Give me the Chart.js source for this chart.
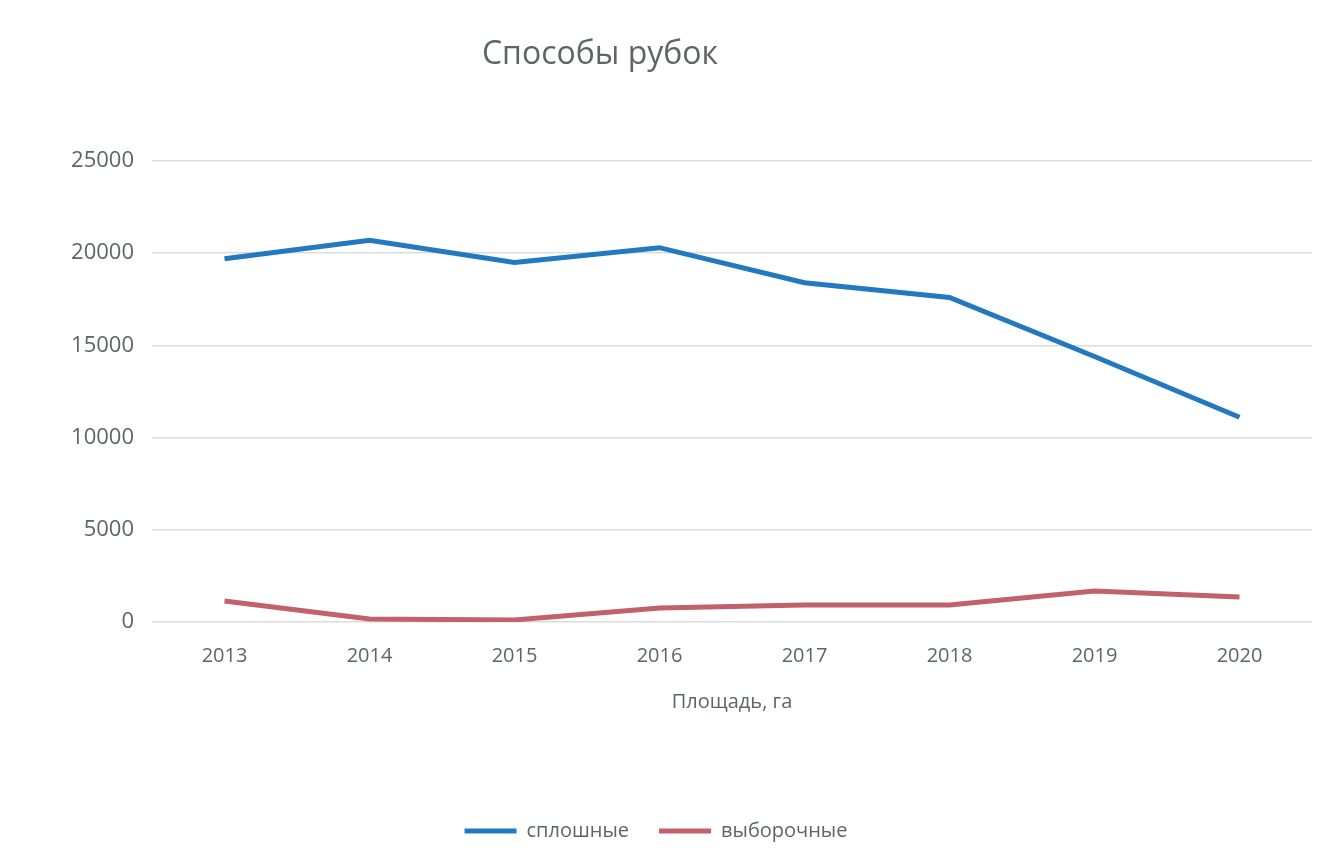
<!DOCTYPE html>
<html>
<head>
<meta charset="utf-8">
<script src="https://cdn.jsdelivr.net/npm/chart.js@4/dist/chart.umd.min.js"></script>
<style>
    html, body { margin: 0; padding: 0; background: #ffffff; }
    #wrap { width: 1339px; height: 864px; position: relative; }
</style>
</head>
<body>
<div id="wrap"><canvas id="chart_rubki"></canvas></div>
<script>
const anos = ['2013', '2014', '2015', '2016', '2017', '2018', '2019', '2020'];
const sploshnye = [19700, 20700, 19500, 20300, 18400, 17600, 14400, 11100];
const vyborochnye = [1140, 160, 110, 760, 920, 920, 1680, 1350];
const tickValues = [0, 5000, 10000, 15000, 20000, 25000];

const corTexto = '#5f6466';

// título desenhado à mão, fora do centro como no original
const tituloPlugin = {
    id: 'tituloPlugin',
    afterDraw(chart) {
        const c = chart.ctx;
        c.save();
        c.font = '32px "Open Sans", sans-serif';
        c.fillStyle = corTexto;
        c.textAlign = 'center';
        c.textBaseline = 'middle';
        c.fillText('Способы рубок', 600, 55);
        c.restore();
    }
};

new Chart(document.getElementById('chart_rubki'), {
    type: 'line',
    data: {
        labels: anos,
        datasets: [{
            label: 'сплошные',
            data: sploshnye,
            borderColor: '#2379c0',
            backgroundColor: '#2379c0',
            borderWidth: 5,
            pointRadius: 0,
            pointStyle: 'line',
            tension: 0
        },
        {
            label: 'выборочные',
            data: vyborochnye,
            borderColor: '#c2606c',
            backgroundColor: '#c2606c',
            borderWidth: 5,
            pointRadius: 0,
            pointStyle: 'line',
            tension: 0
        }]
    },
    plugins: [tituloPlugin],
    options: {
        responsive: true,
        maintainAspectRatio: false,
        animation: false,
        layout: {
            padding: { left: 0, right: 27, top: 161, bottom: 13 }
        },
        scales: {
            x: {
                offset: true,
                grid: { display: false, drawTicks: false },
                border: { display: false },
                ticks: {
                    color: corTexto,
                    padding: 22,
                    font: { family: '"Open Sans", sans-serif', size: 20 }
                },
                title: {
                    display: true,
                    text: 'Площадь, га',
                    color: corTexto,
                    font: { family: '"Open Sans", sans-serif', size: 20 },
                    padding: { top: 0, bottom: 77 }
                }
            },
            y: {
                min: 0,
                max: 25000,
                afterBuildTicks(axis) {
                    axis.ticks = tickValues.map(v => ({ value: v }));
                },
                afterFit(axis) {
                    axis.width = 152;
                },
                grid: { color: '#dcdcdc', lineWidth: 1.5, drawTicks: false },
                border: { display: false },
                ticks: {
                    color: corTexto,
                    padding: 18,
                    callback: v => String(v),
                    font: { family: '"Open Sans", sans-serif', size: 22 }
                }
            }
        },
        plugins: {
            title: { display: false },
            tooltip: { enabled: false },
            legend: {
                display: true,
                position: 'bottom',
                labels: {
                    color: corTexto,
                    usePointStyle: true,
                    pointStyleWidth: 52,
                    padding: 30,
                    font: { family: '"Open Sans", sans-serif', size: 20 }
                }
            }
        }
    }
});
</script>
</body>
</html>
